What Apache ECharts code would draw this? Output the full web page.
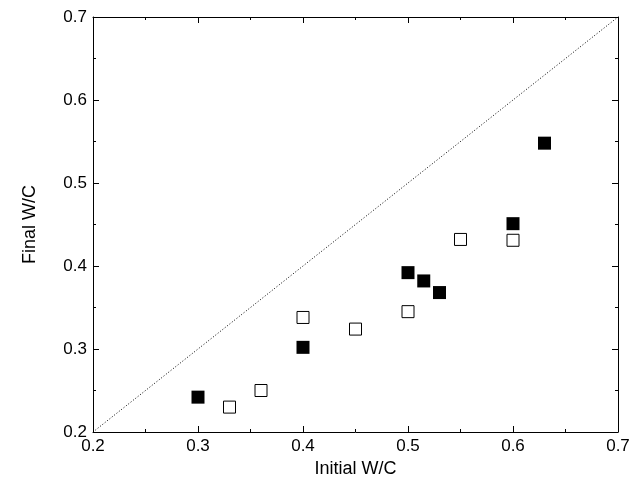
<!DOCTYPE html><html><head><meta charset="utf-8"><script src="https://cdn.jsdelivr.net/npm/echarts@6/dist/echarts.min.js"></script></head><body style="margin:0"><div id="c" style="width:633px;height:495px"></div><script>
const filled=[[0.3,0.242],[0.4,0.302],[0.5,0.392],[0.515,0.382],[0.53,0.368],[0.6,0.451],[0.63,0.548]];
const open=[[0.33,0.230],[0.36,0.250],[0.4,0.338],[0.45,0.324],[0.5,0.345],[0.55,0.432],[0.6,0.431]];
const diag=[[0.2,0.2],[0.7,0.7]];
const f='Liberation Sans';
const ax=(name,show,gap)=>({type:'value',min:0.2,max:0.7,interval:0.1,name:show?name:'',nameLocation:'middle',nameGap:gap,
 nameTextStyle:{fontFamily:f,fontSize:18,color:'#000'},
 axisLine:{show:true,lineStyle:{color:'#000',width:1}},axisTick:{show:true,inside:true,length:6,lineStyle:{color:'#000'}},
 minorTick:{show:true,splitNumber:2,length:3,lineStyle:{color:'#000'}},splitLine:{show:false},
 axisLabel:{show:show,fontFamily:f,fontSize:17,color:'#000',margin:6,formatter:v=>v.toFixed(1)}});
const c=echarts.init(document.getElementById('c'));
c.setOption({animation:false,grid:{left:93,right:15,top:17,bottom:63},
xAxis:[Object.assign(ax('Initial W/C',true,27),{position:'bottom'}),Object.assign(ax('',false,0),{position:'top'})],
yAxis:[Object.assign(ax('Final W/C',true,54),{position:'left'}),Object.assign(ax('',false,0),{position:'right'})],
series:[{type:'line',data:diag,symbol:'none',lineStyle:{color:'#000',width:1,type:[1,2]}},
{type:'scatter',data:filled,symbol:'rect',symbolSize:13,itemStyle:{color:'#000',opacity:1}},
{type:'scatter',data:open,symbol:'rect',symbolSize:12,itemStyle:{color:'#fff',borderColor:'#000',borderWidth:1,opacity:1}}]});
</script></body></html>
